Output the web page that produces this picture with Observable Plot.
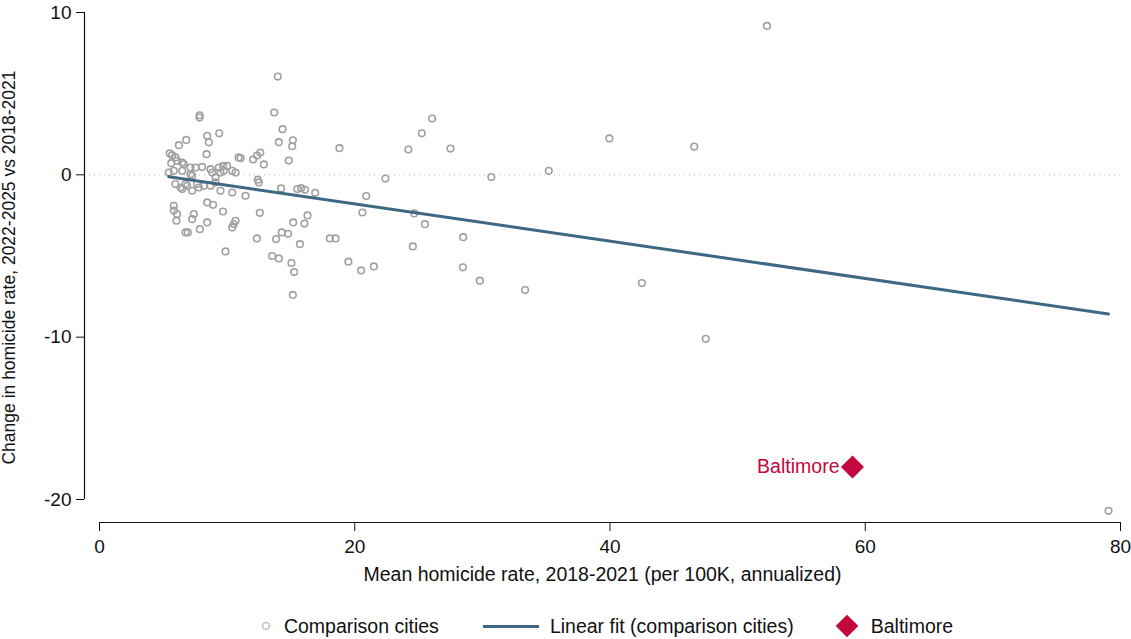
<!DOCTYPE html>
<html>
<head>
<meta charset="utf-8">
<script src="https://cdn.jsdelivr.net/npm/d3@7"></script>
<script src="https://cdn.jsdelivr.net/npm/@observablehq/plot@0.6"></script>
<style>
  html, body { margin: 0; padding: 0; background: #fff; }
  body { width: 1131px; height: 639px; overflow: hidden; font-family: "Liberation Sans", Arial, Helvetica, sans-serif; }
  #chart svg { display: block; }
  .legend { display: flex; align-items: center; justify-content: center; height: 30px; margin-top: 11px; font-size: 19.5px; color: #111; padding-left: 84px; }
  .legend .item { display: flex; align-items: center; }
  .legend .circ { width: 6px; height: 6px; border: 1.6px solid #a0a0a0; border-radius: 50%; margin-right: 14px; }
  .legend .ln { width: 56px; height: 3px; background: #3e6883; margin-right: 11px; }
  .legend .dia { width: 16px; height: 16px; background: #c4073c; transform: rotate(45deg); margin-right: 16px; margin-left: 3px; }
  .legend .gap1 { width: 44px; }
  .legend .gap2 { width: 42px; }
</style>
</head>
<body>
<div id="chart"></div>
<div class="legend">
  <div class="item"><div class="circ"></div><span>Comparison cities</span></div>
  <div class="gap1"></div>
  <div class="item"><div class="ln"></div><span>Linear fit (comparison cities)</span></div>
  <div class="gap2"></div>
  <div class="item"><div class="dia"></div><span>Baltimore</span></div>
</div>
<script>
// Comparison cities: mean homicide rate 2018-2021 (x) and change 2022-2025 vs 2018-2021 (y)
const cityX = [
  5.43, 5.5, 5.69, 5.62, 5.95, 6.08, 6.48, 6.61, 5.82, 6.48,
  6.22, 6.79, 7.84, 7.84, 8.44, 8.57, 9.38, 8.39, 10.9, 7.13,
  8.04, 8.7, 9.35, 9.69, 10.0, 10.4, 7.13, 7.26, 8.83, 9.48,
  9.74, 9.09, 10.66, 7.52, 5.95, 6.48, 6.87, 7.26, 7.65, 8.7,
  9.09, 9.48, 10.4, 11.44, 5.82, 5.82, 6.08, 6.03, 7.39, 7.26,
  8.44, 8.9, 9.68, 8.44, 7.86, 6.74, 6.92, 10.66, 10.52, 10.4,
  9.87, 6.74, 7.78, 8.17, 6.35, 12.48,
  11.05, 12.04, 12.35, 12.6, 12.88, 12.4, 12.56, 12.33, 14.23, 15.5,
  15.8, 16.1, 16.9, 16.3, 15.18, 16.06, 13.84, 14.28, 14.78, 15.7,
  18.05, 18.5, 13.53, 14.05, 15.04, 15.25, 15.15, 13.97, 13.69, 14.34,
  14.05, 15.15, 15.1, 14.83, 18.8,
  19.5, 20.5, 21.5, 20.9, 20.6, 22.4, 24.2, 25.25, 26.06, 27.5,
  30.7, 24.66, 25.5, 28.5, 24.55, 28.47, 29.8, 33.35, 35.2,
  39.95, 46.6, 52.3, 42.5, 47.5, 79.06
];
const cityY = [
  0.14, 1.33, 1.21, 0.72, 1.07, 0.86, 0.76, 0.66, 0.25, 0.25,
  1.83, 2.15, 3.67, 3.53, 2.4, 2.0, 2.56, 1.27, 1.07, 0.45,
  0.49, 0.35, 0.45, 0.55, 0.55, 0.25, 0.04, -0.06, 0.14, 0.14,
  0.25, -0.16, 0.14, 0.45, -0.57, -0.88, -0.68, -0.98, -0.57, -0.68,
  -0.47, -0.98, -1.09, -1.29, -1.91, -2.2, -2.42, -2.83, -2.42, -2.73,
  -1.7, -1.85, -2.26, -2.93, -3.35, -3.55, -3.55, -2.83, -3.03, -3.24,
  -4.72, -0.57, -0.78, -0.68, -0.78, -0.47,
  1.03, 0.94, 1.19, 1.37, 0.64, -0.3, -2.34, -3.92, -0.84, -0.88,
  -0.82, -0.92, -1.11, -2.5, -2.93, -3.0, -3.96, -3.55, -3.63, -4.27,
  -3.92, -3.92, -5.0, -5.15, -5.43, -5.99, -7.4, 6.05, 3.84, 2.81,
  2.01, 2.13, 1.76, 0.88, 1.64,
  -5.35, -5.89, -5.64, -1.31, -2.32, -0.23, 1.56, 2.56, 3.47, 1.62,
  -0.14, -2.38, -3.04, -3.84, -4.41, -5.7, -6.52, -7.1, 0.25,
  2.24, 1.74, 9.17, -6.67, -10.1, -20.7
];
// Baltimore
const baltX = [59.0];
const baltY = [-18.0];
const baltLabel = ["Baltimore"];
// Linear fit (comparison cities), endpoints
const fitX = [5.43, 79.06];
const fitY = [-0.12, -8.57];
// Axis ticks
const xTicks = [0, 20, 40, 60, 80];
const yTicks = [-20, -10, 0, 10];

const cities = cityX.map((x, i) => ({x, y: cityY[i]}));
const balt = baltX.map((x, i) => ({x, y: baltY[i], label: baltLabel[i]}));
const fit = fitX.map((x, i) => ({x, y: fitY[i]}));

const chart = Plot.plot({
  width: 1131,
  height: 600,
  marginLeft: 84,
  marginRight: 11,
  marginTop: 12,
  marginBottom: 78,
  style: {fontFamily: '"Liberation Sans", Arial, Helvetica, sans-serif', fontSize: "19px", color: "#111", background: "white"},
  x: {domain: [0, 80], insetLeft: 15},
  y: {domain: [-20, 10], insetBottom: 23},
  marks: [
    Plot.ruleY([0], {stroke: "#b8b8b8", strokeWidth: 1, strokeDasharray: "1,4"}),
    Plot.ruleX([xTicks[0]], {y1: yTicks[0], y2: yTicks[yTicks.length - 1], dx: -15, stroke: "#111", strokeWidth: 1.2}),
    Plot.ruleY([yTicks[0]], {x1: xTicks[0], x2: xTicks[xTicks.length - 1], dy: 23, stroke: "#111", strokeWidth: 1.2}),
    Plot.axisY({ticks: yTicks, tickSize: 8, tickPadding: 5, fontSize: 19, tickFormat: d => String(d),
      label: null}),
    Plot.axisY({ticks: [], tickSize: 0, fontSize: 17.5,
      label: "Change in homicide rate, 2022-2025 vs 2018-2021", labelAnchor: "center", labelArrow: "none", labelOffset: 82}),
    Plot.axisX({ticks: xTicks, tickSize: 9, tickPadding: 8, fontSize: 19, tickFormat: d => String(d),
      label: null}),
    Plot.axisX({ticks: [], tickSize: 0, fontSize: 19.5,
      label: "Mean homicide rate, 2018-2021 (per 100K, annualized)", labelAnchor: "center", labelArrow: "none", labelOffset: 58}),
    Plot.dot(cities, {x: "x", y: "y", r: 3.3, stroke: "#a0a0a0", strokeWidth: 1.6, fill: "none"}),
    Plot.line(fit, {x: "x", y: "y", stroke: "#3e6883", strokeWidth: 3}),
    Plot.dot(balt, {x: "x", y: "y", symbol: "diamond2", r: 10.4, fill: "#c4073c", stroke: "none"}),
    Plot.text(balt, {x: "x", y: "y", text: "label", textAnchor: "end", dx: -13, fill: "#c4073c", fontSize: 19.5})
  ]
});
document.getElementById("chart").appendChild(chart);
</script>
</body>
</html>
